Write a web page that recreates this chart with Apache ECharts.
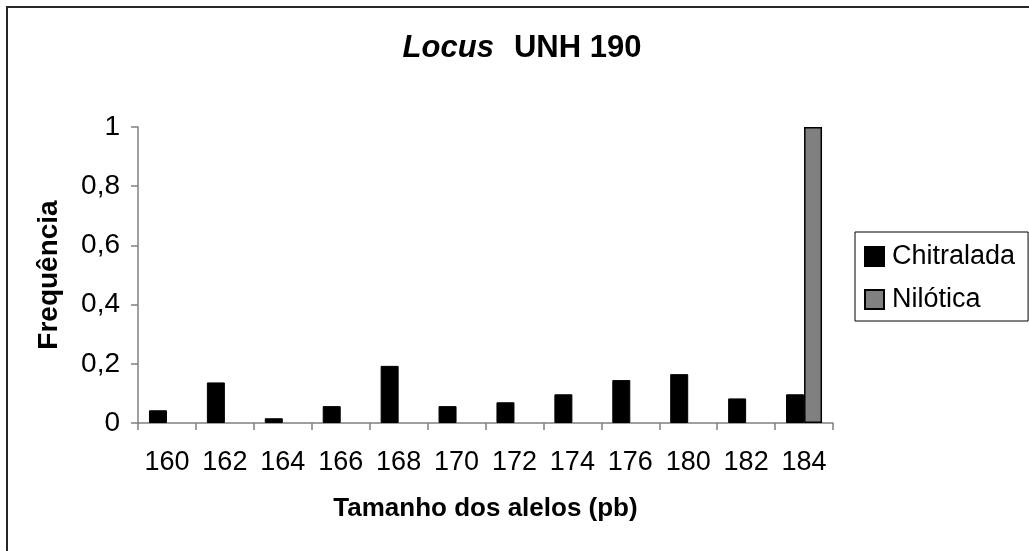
<!DOCTYPE html>
<html>
<head>
<meta charset="utf-8">
<script src="https://cdn.jsdelivr.net/npm/echarts@6/dist/echarts.min.js"></script>
<style>html,body{margin:0;padding:0;background:#fff}#c{width:1029px;height:551px}</style>
</head>
<body>
<div id="c"></div>
<script>
const categories = ['160','162','164','166','168','170','172','174','176','180','182','184'];
const chitralada = [0.043, 0.137, 0.016, 0.057, 0.193, 0.057, 0.070, 0.097, 0.145, 0.165, 0.083, 0.097];
const nilotica = [0, 0, 0, 0, 0, 0, 0, 0, 0, 0, 0, 1.0];
const yTicks = [0, 0.2, 0.4, 0.6, 0.8, 1];

const FONT = '"Liberation Sans", Arial, sans-serif';
const chart = echarts.init(document.getElementById('c'), null, {renderer: 'canvas'});
chart.setOption({
  animation: false,
  backgroundColor: '#fff',
  textStyle: {fontFamily: FONT, color: '#000'},
  graphic: [{
    type: 'rect', shape: {x: 7, y: 7, width: 1100, height: 600},
    style: {fill: 'none', stroke: '#262626', lineWidth: 2}, silent: true, z: -1
  }],
  title: {
    text: '{i|Locus}{s| }{b|UNH 190}',
    left: 517, top: 28, textAlign: 'center',
    textStyle: {
      rich: {
        i: {fontFamily: FONT, fontSize: 31, fontWeight: 'bold', fontStyle: 'italic', color: '#000'},
        s: {fontFamily: FONT, fontSize: 31, width: 20},
        b: {fontFamily: FONT, fontSize: 31, fontWeight: 'bold', color: '#000'}
      }
    }
  },
  legend: {
    orient: 'vertical', left: 855, top: 232,
    padding: [11, 13, 8, 9],
    itemWidth: 19, itemHeight: 19, itemGap: 16,
    borderColor: '#000', borderWidth: 1,
    icon: 'rect',
    textStyle: {fontFamily: FONT, fontSize: 27, color: '#000', lineHeight: 27, padding: [0, 0, 0, 3]},
    data: ['Chitralada', 'Nilótica']
  },
  grid: {left: 138, right: 196, top: 127, bottom: 128, containLabel: false},
  xAxis: {
    type: 'category', data: categories,
    axisLine: {lineStyle: {color: '#808080', width: 1.5}},
    axisTick: {show: true, interval: 0, length: 7, alignWithLabel: false, lineStyle: {color: '#808080', width: 1.5}},
    axisLabel: {fontFamily: FONT, fontSize: 27, color: '#000', margin: 26, interval: 0, hideOverlap: false},
    name: 'Tamanho dos alelos (pb)', nameLocation: 'middle', nameGap: 73,
    nameTextStyle: {fontFamily: FONT, fontSize: 26, fontWeight: 'bold', color: '#000'}
  },
  yAxis: {
    type: 'value', min: 0, max: 1, interval: 0.2,
    axisLine: {show: true, lineStyle: {color: '#808080', width: 1.5}},
    axisTick: {show: true, length: 7, lineStyle: {color: '#808080', width: 1.5}},
    splitLine: {show: false},
    axisLabel: {
      fontFamily: FONT, fontSize: 28, color: '#000', margin: 18,
      formatter: v => String(Math.round(v * 10) / 10).replace('.', ',')
    },
    name: 'Frequência', nameLocation: 'middle', nameGap: 75, nameRotate: 90,
    nameTextStyle: {fontFamily: FONT, fontSize: 28, fontWeight: 'bold', color: '#000'}
  },
  series: [
    {
      name: 'Chitralada', type: 'bar', data: chitralada,
      barWidth: 18, barGap: '0%',
      itemStyle: {color: '#000', borderColor: '#000', borderWidth: 1}
    },
    {
      name: 'Nilótica', type: 'bar', data: nilotica.map(v => v === 0 ? null : v),
      barWidth: 18, barGap: '0%',
      itemStyle: {color: '#808080', borderColor: '#000', borderWidth: 1.5}
    }
  ]
});
</script>
</body>
</html>
